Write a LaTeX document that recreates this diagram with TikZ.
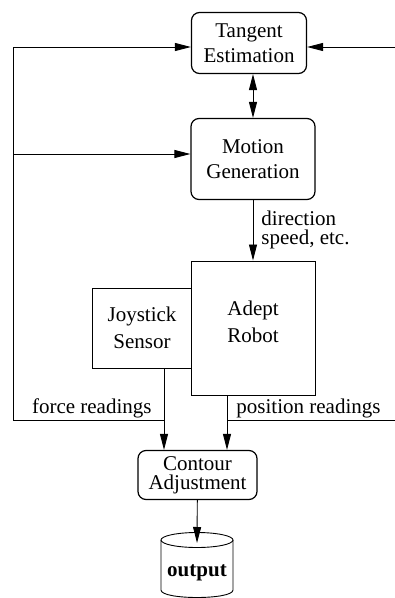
\documentclass[tikz,border=0pt]{standalone}
\usepackage{fontspec}
\setmainfont{Liberation Serif}
\usetikzlibrary{arrows.meta}
\begin{document}
\begin{tikzpicture}
  [x=1pt,y=-1pt,line width=0.9pt,>={Triangle[length=16pt,width=8pt]},
   every node/.style={font=\fontsize{21}{19}\selectfont,align=center}]
  \tikzstyle{module} = [draw,line width=1.2pt,rounded corners=8pt,inner sep=0pt,fill=white]
  \tikzstyle{unit} = [draw,line width=1pt,inner sep=0pt,fill=white]
  \tikzstyle{wide} = [font=\fontsize{21}{25}\selectfont]
  \tikzstyle{note} = [inner sep=2pt]
  \useasboundingbox (0,0) rectangle (395,598);
  % blocks
  \node[module,wide,minimum width=115,minimum height=61] (tangent) at (249,43) {Tangent\\Estimation};
  \node[module,wide,minimum width=124,minimum height=81] (motion) at (253,159) {Motion\\Generation};
  \node[unit,wide,minimum width=99,minimum height=80,font=\fontsize{21}{26.5}\selectfont] (joystick) at (142,328) {Joystick\\Sensor};
  \node[unit,minimum width=124,minimum height=134] (robot) at (253,328) {};
  \node[font=\fontsize{21}{26.5}\selectfont] (robottext) at (253,322) {Adept\\Robot};
  \node[module,minimum width=119,minimum height=49] (contour) at (197.5,475) {Contour\\Adjustment};
  % output store
  \draw (197,540) ellipse [x radius=36,y radius=7.5];
  \draw (161,540) -- (161,590) .. controls (161,600) and (233,600) .. (233,590) -- (233,540);
  \node (output) at (197,573) {\textbf{output}};
  % feedback lines
  \coordinate (lbot) at (13,420);
  \coordinate (ltop) at (13,47);
  \coordinate (lmid) at (13,154);
  \coordinate (rtop) at (395,47);
  \coordinate (rbot) at (395,420);
  \coordinate (jx) at (164,0);
  \coordinate (rx) at (227,0);
  \coordinate (dbtop) at (197,543);
  \draw[->] (lbot) -- (ltop) -- (ltop -| tangent.west);
  \draw[->] (lmid) -- (lmid -| motion.west);
  \draw[->] (rtop) -- (rtop -| tangent.east);
  \draw[<->] (tangent.south -| motion.north) -- (motion.north);
  \draw[->] (motion) -- node[note,right,inner xsep=8pt,align=left] {direction\\speed, etc.} (robot);
  \draw[->] (joystick.south -| jx) -- (contour.north -| jx);
  \draw[->] (robot.south -| rx) -- (contour.north -| rx);
  \draw (lbot) -- (lbot -| jx);
  \draw (rbot) -- (rbot -| rx);
  \node[note,anchor=south east] (force) at (154,420) {force readings};
  \node[note,anchor=south west] (position) at (234,420) {position readings};
  \draw[->] (contour) -- (dbtop);
\end{tikzpicture}
\end{document}
